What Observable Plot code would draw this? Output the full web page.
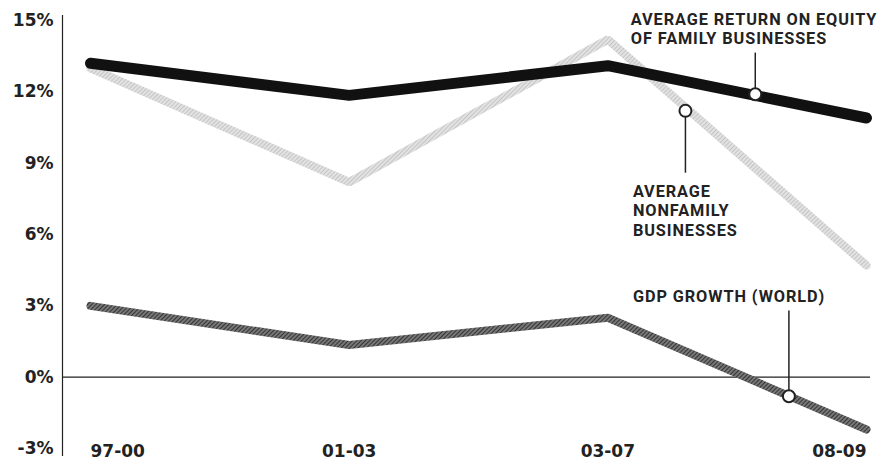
<!DOCTYPE html>
<html><head><meta charset="utf-8">
<script src="https://cdn.jsdelivr.net/npm/d3@7"></script>
<script src="https://cdn.jsdelivr.net/npm/@observablehq/plot@0.6"></script>
<style>body{margin:0;background:#fff}</style>
</head><body><div id="chart"></div>
<script>
const periods = ["97-00", "01-03", "03-07", "08-09"];
const familyROE = [13.2, 11.85, 13.1, 10.9];
const nonfamilyROE = [13.0, 8.2, 14.2, 4.7];
const gdpGrowth = [3.0, 1.35, 2.5, -2.2];
const yTicks = [-3, 0, 3, 6, 9, 12, 15];

// annotation callouts: position along x (period index) and value
const callouts = [
  {x: 2.57, y: 11.9, y2: 13.65},
  {x: 2.30, y: 11.2, y2: 8.6},
  {x: 2.70, y: -0.8, y2: 2.8}
];
const labels = [
  {x: 2.089, y: 14.68, text: "AVERAGE RETURN ON EQUITY\nOF FAMILY BUSINESSES"},
  {x: 2.097, y: 7.02, text: "AVERAGE\nNONFAMILY\nBUSINESSES"},
  {x: 2.097, y: 3.40, text: "GDP GROWTH (WORLD)"}
];

const mk = vals => vals.map((v, i) => ({x: i, y: v}));

const tickFont = "'DejaVu Sans', sans-serif";
const chart = Plot.plot({
  width: 887, height: 463,
  marginLeft: 62, marginRight: 17, marginTop: 15, marginBottom: 8,
  x: {type: "linear", domain: [0, 3], range: [90, 866], axis: null},
  y: {domain: [-3, 15], range: [448, 20], axis: null},
  style: {fontFamily: tickFont, background: "#fff"},
  marks: [
    Plot.frame({anchor: "left", stroke: "#222", strokeWidth: 1.2}),
    Plot.ruleY([0], {stroke: "#222", strokeWidth: 1.2}),
    Plot.axisY({ticks: yTicks, tickSize: 0, tickPadding: 9, tickFormat: d => d + "%", fontSize: 17, fontWeight: 700, fill: "#222"}),
    Plot.text([0], {x: d => d, y: -3, dy: 3, text: d => periods[d], textAnchor: "start", fontSize: 17, fontWeight: 700, fill: "#222"}),
    Plot.text([1, 2], {x: d => d, y: -3, dy: 3, text: d => periods[d], textAnchor: "middle", fontSize: 17, fontWeight: 700, fill: "#222"}),
    Plot.text([3], {x: d => d, y: -3, dy: 3, text: d => periods[d], textAnchor: "end", fontSize: 17, fontWeight: 700, fill: "#222"}),
    Plot.line(mk(nonfamilyROE), {x: "x", y: "y", stroke: "url(#lightHatch)", strokeWidth: 8.5, strokeLinejoin: "miter"}),
    Plot.line(mk(gdpGrowth), {x: "x", y: "y", stroke: "url(#darkHatch)", strokeWidth: 8, strokeLinejoin: "miter"}),
    Plot.line(mk(familyROE), {x: "x", y: "y", stroke: "#111", strokeWidth: 11, strokeLinejoin: "miter"}),
    Plot.link(callouts, {x1: "x", y1: "y", x2: "x", y2: "y2", stroke: "#222", strokeWidth: 1.5}),
    Plot.dot(callouts, {x: "x", y: "y", r: 6, fill: "#fff", stroke: "#222", strokeWidth: 2}),
    Plot.text(labels, {x: "x", y: "y", text: "text", textAnchor: "start", lineAnchor: "middle", lineHeight: 1.18, fontSize: 16.3, fontWeight: 700, fill: "#222", fontFamily: "Roboto, sans-serif"})
  ]
});
const svg = d3.select(chart);
svg.selectAll("text").filter(function() { return /[A-Z]{3}/.test(this.textContent); })
  .attr("letter-spacing", "0.9px");
const defs = svg.insert("defs", ":first-child");
const p1 = defs.append("pattern").attr("id", "darkHatch").attr("patternUnits", "userSpaceOnUse")
  .attr("width", 3).attr("height", 3).attr("patternTransform", "rotate(45)");
p1.append("rect").attr("width", 3).attr("height", 3).attr("fill", "#777");
p1.append("line").attr("x1", 0).attr("y1", 0).attr("x2", 0).attr("y2", 3).attr("stroke", "#222").attr("stroke-width", 1.6);
const p2 = defs.append("pattern").attr("id", "lightHatch").attr("patternUnits", "userSpaceOnUse")
  .attr("width", 3).attr("height", 3).attr("patternTransform", "rotate(45)");
p2.append("rect").attr("width", 3).attr("height", 3).attr("fill", "#e2e2e2");
p2.append("line").attr("x1", 0).attr("y1", 0).attr("x2", 0).attr("y2", 3).attr("stroke", "#a8a8a8").attr("stroke-width", 1);
document.getElementById("chart").appendChild(chart);
</script>
</body></html>
